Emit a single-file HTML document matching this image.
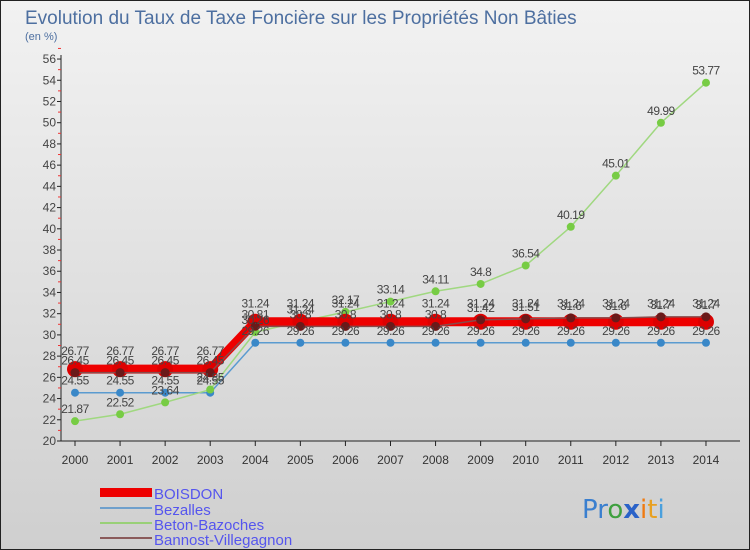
<!DOCTYPE html>
<html><head><meta charset="utf-8"><style>
body{margin:0}
#c{width:750px;height:550px;position:relative;overflow:hidden;font-family:"Liberation Sans",sans-serif}
</style></head><body>
<div id="c">
<svg id="s" width="750" height="550" xmlns="http://www.w3.org/2000/svg">
<defs><linearGradient id="bg" x1="0" y1="0" x2="0" y2="1"><stop offset="0" stop-color="#f2f2f2"/><stop offset="1" stop-color="#cfcfcf"/></linearGradient></defs>
<rect x="0.5" y="0.5" width="749" height="549" fill="url(#bg)" stroke="#222"/>
<text x="25" y="24" font-size="19" fill="#4d6fa0">Evolution du Taux de Taxe Foncière sur les Propriétés Non Bâties</text>
<text x="25" y="40" font-size="11" fill="#4d6fa0">(en %)</text>
<g id="axes"></g><g id="series"></g><g id="labels"></g>
<g font-size="15" fill="#5555ee">
<rect x="100" y="488" width="52" height="9" fill="#ee0000"/>
<text x="154" y="499">BOISDON</text>
<line x1="100" y1="508" x2="152" y2="508" stroke="#6fa0cc" stroke-width="2"/>
<text x="154" y="515">Bezalles</text>
<line x1="100" y1="523" x2="152" y2="523" stroke="#99d077" stroke-width="2"/>
<text x="154" y="530">Beton-Bazoches</text>
<line x1="100" y1="538" x2="152" y2="538" stroke="#8a5a5a" stroke-width="2"/>
<text x="154" y="545">Bannost-Villegagnon</text>
</g>
<g font-size="26" font-family="'DejaVu Sans',sans-serif">
<text x="582" y="518"><tspan fill="#3a7fcf">Pr</tspan><tspan fill="#3fa03f">o</tspan><tspan fill="#2a62c8" font-weight="bold">x</tspan><tspan fill="#f07a10">i</tspan><tspan fill="#e8a020">t</tspan><tspan fill="#4aa0dd">i</tspan></text>
</g>
</svg></div>
<script>
const years=[2000,2001,2002,2003,2004,2005,2006,2007,2008,2009,2010,2011,2012,2013,2014];
const boisdon=[26.77,26.77,26.77,26.77,31.24,31.24,31.24,31.24,31.24,31.24,31.24,31.24,31.24,31.24,31.24];
const bezalles=[24.55,24.55,24.55,24.55,29.26,29.26,29.26,29.26,29.26,29.26,29.26,29.26,29.26,29.26,29.26];
const beton=[21.87,22.52,23.64,24.85,30.26,31.24,32.17,33.14,34.11,34.8,36.54,40.19,45.01,49.99,53.77];
const bannost=[26.45,26.45,26.45,26.45,30.81,30.8,30.8,30.8,30.8,31.42,31.51,31.6,31.6,31.7,31.7];
const yTicks=[20,22,24,26,28,30,32,34,36,38,40,42,44,46,48,50,52,54,56];
const NS="http://www.w3.org/2000/svg";
const X=i=>75+i*45.07, Y=v=>441-(v-20)*10.61;
function mk(t,a,p){const e=document.createElementNS(NS,t);for(const k in a)e.setAttribute(k,a[k]);p.appendChild(e);return e;}
const ax=document.getElementById('axes'),sg=document.getElementById('series'),lg=document.getElementById('labels');
let yl=mk('line',{x1:61,y1:55,x2:61,y2:441,stroke:'#222'},ax);


let xl=mk('line',{x1:61,y1:441,x2:740,y2:441,stroke:'#222'},ax);


yTicks.forEach(v=>{mk('line',{x1:57,y1:Y(v),x2:61,y2:Y(v),stroke:'#222'},ax);
 mk('line',{x1:58,y1:Y(v+1),x2:61,y2:Y(v+1),stroke:'#e33'},ax);
 const t=mk('text',{x:56,y:Y(v)+4,'font-size':12,fill:'#444','text-anchor':'end'},ax);t.textContent=v;
 
 });
years.forEach((y,i)=>{mk('line',{x1:X(i),y1:441,x2:X(i),y2:446,stroke:'#222'},ax);
 const t=mk('text',{x:X(i),y:464,'font-size':12,fill:'#333','text-anchor':'middle'},ax);t.textContent=y;
 
 });
function series(d,name,col,w,r,dot,lo){
 const p=mk('polyline',{points:d.map((v,i)=>X(i)+','+Y(v)).join(' '),fill:'none',stroke:col,'stroke-width':w,'stroke-linejoin':'round'},sg);
 
 
 d.forEach((v,i)=>{const c=mk('circle',{cx:X(i),cy:Y(v),r:r,fill:dot},sg);
  
  
  const t=mk('text',{x:X(i),y:Y(v)-lo,'font-size':12,fill:'#444','text-anchor':'middle','letter-spacing':'-0.5'},lg);t.textContent=v;
  
  });
}
series(bezalles,'bezalles','#5a9bd0',1.5,4,'#3a88c8',8);
series(beton,'beton-bazoches','#a0d880',1.5,4,'#77cc44',8);
series(boisdon,'boisdon','#ee0000',9,8,'#dd0000',14);
series(bannost,'bannost-villegagnon','#8a4a4a',1.5,4.5,'#6a1a1a',8);
</script>
</body></html>
